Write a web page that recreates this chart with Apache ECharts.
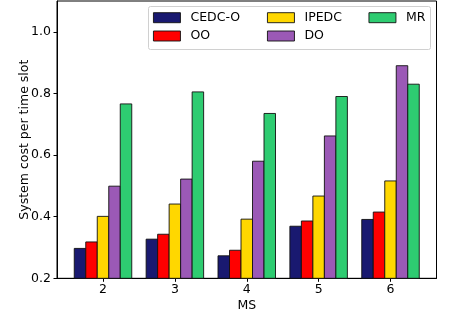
<!DOCTYPE html>
<html>
<head>
<meta charset="utf-8">
<script src="https://cdn.jsdelivr.net/npm/echarts@6/dist/echarts.min.js"></script>
<style>
html,body{margin:0;padding:0;background:#fff;}
#chart{width:453px;height:322px;}
</style>
</head>
<body>
<div id="chart"></div>
<script>
const categories = [2, 3, 4, 5, 6];
const seriesNames = ['CEDC-O', 'OO', 'IPEDC', 'DO', 'MR'];
const cedcO = [0.297, 0.327, 0.273, 0.369, 0.391];
const oo = [0.318, 0.343, 0.291, 0.386, 0.415];
const ipedc = [0.401, 0.441, 0.392, 0.467, 0.516];
const doVals = [0.499, 0.522, 0.580, 0.662, 0.890];
const mr = [0.766, 0.805, 0.735, 0.790, 0.830];
const yTicks = [0.2, 0.4, 0.6, 0.8, 1.0];
const colors = ['#191970', '#ff0000', '#ffd700', '#9b59b6', '#2ecc71'];

const allValues = [cedcO, oo, ipedc, doVals, mr];
const barW = 0.16;
const FONT = 'DejaVu Sans';
const FS = 12.5;

const chart = echarts.init(document.getElementById('chart'), null, {renderer: 'canvas'});

const series = allValues.map((vals, i) => ({
  name: seriesNames[i],
  type: 'custom',
  color: colors[i],
  itemStyle: {color: colors[i]},
  data: categories.map((c, j) => [c, vals[j]]),
  renderItem: function (params, api) {
    const x = api.value(0), y = api.value(1);
    const off = (i - 2) * barW;
    const p0 = api.coord([x + off - barW / 2, y]);
    const p1 = api.coord([x + off + barW / 2, 0.2]);
    return {
      type: 'rect',
      shape: {x: p0[0], y: p0[1], width: p1[0] - p0[0], height: p1[1] - p0[1]},
      style: {fill: colors[i], stroke: '#111', lineWidth: 0.9}
    };
  }
}));

const legendCommon = {
  orient: 'vertical',
  icon: 'rect',
  itemWidth: 27,
  itemHeight: 10,
  itemGap: 4.3,
  padding: 0,
  selectedMode: false,
  itemStyle: {borderColor: '#111', borderWidth: 0.9},
  textStyle: {fontFamily: FONT, fontSize: FS, lineHeight: 14, color: '#000', padding: [0, 0, 0, 5]}
};

chart.setOption({
  animation: false,
  backgroundColor: '#fff',
  grid: {left: 57, right: 16.5, top: 1, bottom: 43.7, show: true, borderColor: '#000', borderWidth: 1, backgroundColor: 'transparent'},
  legend: [
    Object.assign({}, legendCommon, {left: 153, top: 10.7, data: ['CEDC-O', 'OO']}),
    Object.assign({}, legendCommon, {left: 267, top: 10.7, data: ['IPEDC', 'DO']}),
    Object.assign({}, legendCommon, {left: 368.5, top: 10.7, data: ['MR']})
  ],
  graphic: [{
    type: 'rect',
    shape: {x: 148.5, y: 6.5, width: 282, height: 43, r: 2},
    style: {fill: 'rgba(255,255,255,0.8)', stroke: '#d0d0d0', lineWidth: 1},
    z: 0
  }],
  xAxis: {
    type: 'value',
    min: 1.36,
    max: 6.64,
    name: 'MS',
    nameLocation: 'middle',
    nameGap: 21,
    nameMoveOverlap: false,
    nameTextStyle: {fontFamily: FONT, fontSize: FS, color: '#000'},
    axisLine: {show: true, lineStyle: {color: '#000', width: 1}},
    axisTick: {show: true, length: 3.5, lineStyle: {color: '#000'}, customValues: categories},
    axisLabel: {fontFamily: FONT, fontSize: FS, color: '#000', margin: 5, customValues: categories},
    splitLine: {show: false}
  },
  yAxis: {
    type: 'value',
    min: 0.2,
    max: 1.1,
    name: 'System cost per time slot',
    nameLocation: 'middle',
    nameGap: 26,
    nameMoveOverlap: false,
    nameTextStyle: {fontFamily: FONT, fontSize: FS, color: '#000'},
    axisLine: {show: true, lineStyle: {color: '#000', width: 1}},
    axisTick: {show: true, length: 3.5, lineStyle: {color: '#000'}, customValues: yTicks},
    axisLabel: {fontFamily: FONT, fontSize: FS, color: '#000', margin: 6,
      customValues: yTicks, formatter: v => v.toFixed(1)},
    splitLine: {show: false}
  },
  series: series
});
</script>
</body>
</html>
